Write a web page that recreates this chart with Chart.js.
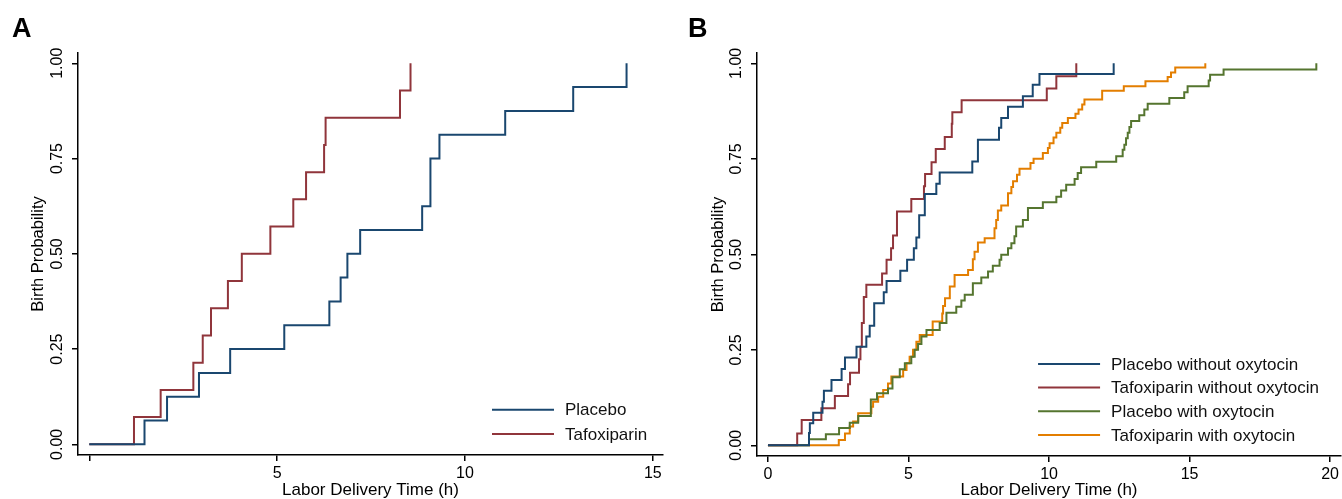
<!DOCTYPE html>
<html>
<head>
<meta charset="utf-8">
<script src="https://cdn.jsdelivr.net/npm/chart.js@4"></script>
<style>
  html, body { margin: 0; padding: 0; background: #fff; }
  #wrap { position: relative; width: 1342px; height: 499px; }
  #chartA { position: absolute; left: 0; top: 0; }
  #chartB { position: absolute; left: 671px; top: 0; }
</style>
</head>
<body>
<div id="wrap">
  <canvas id="chartA" width="671" height="499"></canvas>
  <canvas id="chartB" width="671" height="499"></canvas>
</div>
<script>
// panel A: all patients
const timePlaceboA = [0, 1.47, 2.07, 2.92, 3.75, 5.19, 6.39, 6.69, 6.87, 7.21, 8.86, 9.08, 9.32, 11.07, 12.88, 14.3];
const probPlaceboA = [0, 0.0625, 0.125, 0.1875, 0.25, 0.3125, 0.375, 0.4375, 0.5, 0.5625, 0.625, 0.75, 0.8125, 0.875, 0.9375, 1.0];
const timeTafoA = [0, 1.19, 1.9, 2.77, 3.02, 3.24, 3.69, 4.06, 4.82, 5.43, 5.77, 6.25, 6.29, 8.27, 8.55];
const probTafoA = [0, 0.0714, 0.1429, 0.2143, 0.2857, 0.3571, 0.4286, 0.5, 0.5714, 0.6429, 0.7143, 0.7857, 0.8571, 0.9286, 1.0];

// panel B: split by oxytocin
const timePlaceboNoOxy = [0, 1.46, 1.49, 1.61, 1.94, 1.99, 2.26, 2.62, 2.74, 3.15, 3.5, 3.62, 3.78, 4.12, 4.22, 4.71, 4.95, 5.19, 5.28, 5.38, 5.58, 5.99, 6.11, 7.27, 7.47, 8.22, 8.3, 8.54, 9.07, 9.42, 9.66, 12.3];
const probPlaceboNoOxy = [0, 0.032, 0.058, 0.085, 0.114, 0.143, 0.171, 0.2, 0.23, 0.258, 0.285, 0.313, 0.372, 0.401, 0.43, 0.457, 0.486, 0.516, 0.544, 0.602, 0.658, 0.685, 0.714, 0.743, 0.8, 0.831, 0.857, 0.886, 0.914, 0.944, 0.972, 1.0];
const timeTafoNoOxy = [0, 1.04, 1.2, 1.9, 2.38, 2.85, 2.92, 3.24, 3.29, 3.34, 3.41, 3.5, 4.06, 4.22, 4.38, 4.45, 4.59, 5.1, 5.55, 5.59, 5.82, 5.97, 6.29, 6.54, 6.56, 6.89, 9.92, 10.26, 10.97];
const probTafoNoOxy = [0, 0.031, 0.066, 0.097, 0.129, 0.16, 0.19, 0.225, 0.258, 0.32, 0.388, 0.42, 0.45, 0.486, 0.516, 0.549, 0.612, 0.645, 0.678, 0.71, 0.741, 0.776, 0.807, 0.842, 0.872, 0.903, 0.934, 0.966, 1.0];
const timePlaceboOxy = [0, 1.46, 2.06, 2.53, 2.91, 3.21, 3.66, 3.88, 4.27, 4.43, 4.69, 4.87, 5.1, 5.22, 5.34, 5.46, 5.64, 6.11, 6.35, 6.7, 6.88, 7.0, 7.29, 7.59, 7.83, 8.0, 8.24, 8.3, 8.54, 8.66, 8.77, 8.83, 9.07, 9.25, 9.78, 10.26, 10.43, 10.61, 10.91, 11.02, 11.14, 11.68, 12.39, 12.62, 12.68, 12.74, 12.8, 12.86, 12.92, 13.21, 13.39, 13.51, 14.28, 14.81, 14.93, 15.68, 15.73, 16.21, 19.51];
const probPlaceboOxy = [0, 0.016, 0.029, 0.045, 0.059, 0.077, 0.12, 0.136, 0.149, 0.178, 0.199, 0.215, 0.232, 0.25, 0.265, 0.285, 0.302, 0.32, 0.347, 0.363, 0.379, 0.394, 0.424, 0.439, 0.455, 0.47, 0.486, 0.499, 0.516, 0.529, 0.547, 0.573, 0.59, 0.621, 0.636, 0.651, 0.667, 0.682, 0.697, 0.713, 0.728, 0.742, 0.757, 0.774, 0.787, 0.804, 0.818, 0.833, 0.849, 0.864, 0.879, 0.894, 0.909, 0.924, 0.94, 0.955, 0.97, 0.984, 1.0];
const timeTafoOxy = [0, 2.52, 2.74, 2.91, 3.03, 3.21, 3.68, 3.74, 3.92, 4.1, 4.27, 4.39, 4.81, 4.93, 5.04, 5.16, 5.28, 5.4, 5.86, 6.2, 6.23, 6.3, 6.47, 6.64, 7.12, 7.29, 7.35, 7.47, 7.71, 8.06, 8.12, 8.18, 8.3, 8.54, 8.66, 8.72, 8.86, 8.95, 9.34, 9.45, 9.78, 9.96, 10.02, 10.16, 10.26, 10.4, 10.47, 10.67, 10.94, 11.05, 11.18, 11.26, 11.89, 12.66, 13.43, 14.22, 14.34, 14.49, 15.56];
const probTafoOxy = [0, 0.014, 0.031, 0.049, 0.062, 0.084, 0.101, 0.114, 0.127, 0.145, 0.162, 0.18, 0.197, 0.215, 0.232, 0.25, 0.271, 0.289, 0.324, 0.345, 0.365, 0.385, 0.416, 0.446, 0.459, 0.487, 0.507, 0.531, 0.542, 0.568, 0.59, 0.615, 0.628, 0.66, 0.676, 0.691, 0.708, 0.724, 0.739, 0.75, 0.765, 0.778, 0.791, 0.806, 0.818, 0.831, 0.844, 0.857, 0.868, 0.879, 0.892, 0.905, 0.928, 0.94, 0.953, 0.964, 0.976, 0.989, 1.0];

const labelsA = ["Placebo", "Tafoxiparin"];
const labelsB = ["Placebo without oxytocin", "Tafoxiparin without oxytocin", "Placebo with oxytocin", "Tafoxiparin with oxytocin"];

const yTickValues = [0, 0.25, 0.5, 0.75, 1];
const yTickLabels = ["0.00", "0.25", "0.50", "0.75", "1.00"];
const xTickValuesA = [0, 5, 10, 15];
const xTickLabelsA = ["", "5", "10", "15"];
const xTickValuesB = [0, 5, 10, 15, 20];
const xTickLabelsB = ["0", "5", "10", "15", "20"];

const navy = "#1a476f", maroon = "#90353b", green = "#55752f", orange = "#e37e00";

Chart.defaults.font.family = '"Liberation Sans", Arial, Helvetica, sans-serif';
Chart.defaults.color = "#000";

function toPoints(t, p) {
  return t.map((x, i) => ({ x: x, y: p[i] }));
}

function km(label, t, p, color) {
  return {
    label: label,
    data: toPoints(t, p),
    borderColor: color,
    backgroundColor: color,
    borderWidth: 2,
    stepped: "before",
    pointRadius: 0,
    fill: false
  };
}

// panel letter + legend inside the plot
const panelDecor = {
  id: "panelDecor",
  afterDraw(chart, args, opts) {
    const ctx = chart.ctx;
    const area = chart.chartArea;
    ctx.save();
    ctx.fillStyle = "#000";
    ctx.font = 'bold 27px "Liberation Sans", Arial, sans-serif';
    ctx.textBaseline = "alphabetic";
    ctx.textAlign = "left";
    ctx.fillText(opts.letter, opts.letterX, 37);

    ctx.font = '17px "Liberation Sans", Arial, sans-serif';
    ctx.textBaseline = "middle";
    const n = chart.data.datasets.length;
    chart.data.datasets.forEach((ds, i) => {
      const y = area.bottom - opts.legendBottom - (n - 1 - i) * opts.legendGap;
      const x0 = area.right - opts.legendRight;
      ctx.strokeStyle = ds.borderColor;
      ctx.lineWidth = 2;
      ctx.beginPath();
      ctx.moveTo(x0, y);
      ctx.lineTo(x0 + 62, y);
      ctx.stroke();
      ctx.fillStyle = "#111";
      ctx.fillText(ds.label, x0 + 73, y + 1);
    });
    ctx.restore();
  }
};

function makeOptions(cfg) {
  return {
    responsive: false,
    animation: false,
    layout: { autoPadding: false, padding: { top: 53, right: cfg.padRight, left: 0, bottom: 0 } },
    plugins: {
      legend: { display: false },
      tooltip: { enabled: false },
      panelDecor: cfg.decor
    },
    scales: {
      x: {
        type: "linear",
        min: cfg.xMin,
        max: cfg.xMax,
        afterBuildTicks: s => { s.ticks = cfg.xVals.map(v => ({ value: v })); },
        afterFit: s => { s.height = cfg.xHeight; },
        ticks: {
          callback: (v, i) => cfg.xLabels[i],
          font: { size: 16 },
          color: "#000",
          padding: 3,
          maxRotation: 0,
          autoSkip: false
        },
        grid: { display: true, drawOnChartArea: false, drawTicks: true, tickLength: 6, color: "#000", lineWidth: 1.5 },
        border: { display: true, color: "#000", width: 1.5 },
        title: { display: true, text: "Labor Delivery Time (h)", font: { size: 17 }, color: "#000", padding: { top: 0, bottom: -1.5 } }
      },
      y: {
        min: -0.028,
        max: 1.027,
        afterBuildTicks: s => { s.ticks = yTickValues.map(v => ({ value: v })); },
        afterFit: s => { s.width = cfg.yWidth; },
        ticks: {
          callback: (v, i) => yTickLabels[i],
          minRotation: 90,
          maxRotation: 90,
          crossAlign: "center",
          padding: -1.5,
          font: { size: 16 },
          color: "#000",
          autoSkip: false
        },
        grid: { display: true, drawOnChartArea: false, drawTicks: true, tickLength: 6, color: "#000", lineWidth: 1.5 },
        border: { display: true, color: "#000", width: 1.5 },
        title: { display: true, text: "Birth Probability", font: { size: 16.5 }, color: "#000", padding: { top: cfg.yTitlePad, bottom: 0 } }
      }
    }
  };
}

new Chart(document.getElementById("chartA"), {
  type: "line",
  data: {
    datasets: [
      km(labelsA[0], timePlaceboA, probPlaceboA, navy),
      km(labelsA[1], timeTafoA, probTafoA, maroon)
    ]
  },
  options: makeOptions({
    padRight: 8, xMin: -0.30, xMax: 15.27, xVals: xTickValuesA, xLabels: xTickLabelsA,
    xHeight: 44, yWidth: 78, yTitlePad: 29,
    decor: { letter: "A", letterX: 12, legendRight: 171, legendBottom: 21, legendGap: 24.3 }
  }),
  plugins: [panelDecor]
});

new Chart(document.getElementById("chartB"), {
  type: "line",
  data: {
    datasets: [
      km(labelsB[0], timePlaceboNoOxy, probPlaceboNoOxy, navy),
      km(labelsB[1], timeTafoNoOxy, probTafoNoOxy, maroon),
      km(labelsB[2], timePlaceboOxy, probPlaceboOxy, green),
      km(labelsB[3], timeTafoOxy, probTafoOxy, orange)
    ]
  },
  options: makeOptions({
    padRight: 0, xMin: -0.39, xMax: 20.39, xVals: xTickValuesB, xLabels: xTickLabelsB,
    xHeight: 43, yWidth: 86, yTitlePad: 38,
    decor: { letter: "B", letterX: 17, legendRight: 303, legendBottom: 21, legendGap: 23.7 }
  }),
  plugins: [panelDecor]
});
</script>
</body>
</html>
